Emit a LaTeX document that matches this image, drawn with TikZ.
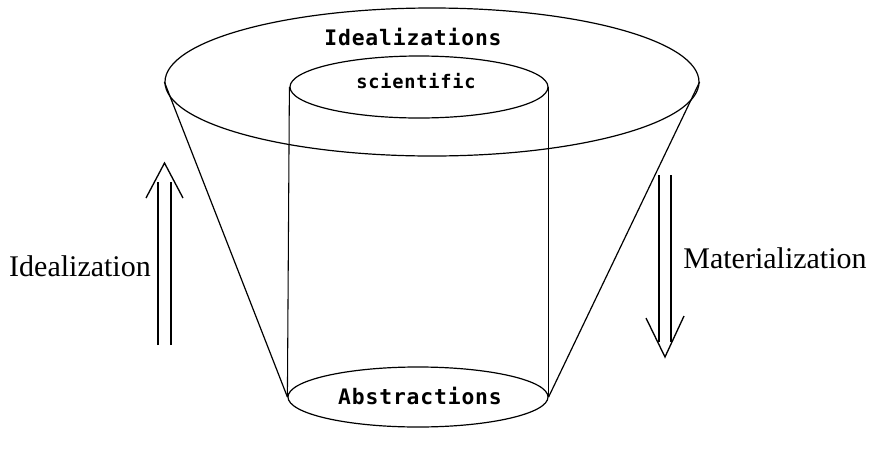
\documentclass[tikz,border=0pt]{standalone}
\usepackage{fontspec}
\setmainfont{Liberation Serif}
\newfontfamily\monof[LetterSpace=4]{DejaVu Sans Mono}
\usetikzlibrary{shapes.geometric}
\begin{document}
\begin{tikzpicture}[x=0.75pt,y=-0.75pt,
  outline/.style={draw=black,line width=0.9pt},
  ell/.style={ellipse,outline,inner sep=0pt,minimum width=#1},
  monolabel/.style={font=\monof\bfseries\fontsize{16}{18}\selectfont,inner sep=0pt},
  seriflabel/.style={font=\fontsize{22.5}{26}\selectfont,inner sep=0pt},
  thin/.style={draw=black,line width=0.8pt},
  vhead/.style={draw=black,line width=1pt,line join=miter}]
\useasboundingbox (0,0) rectangle (869,472);
% ellipses
\node[ell=400.5pt,minimum height=111pt] (big) at (432,82) {};
\node[ell=193.5pt,minimum height=46.5pt] (inner) at (419,87) {};
\node[ell=195pt,minimum height=45pt] (bot) at (418,397) {};
% cone sides
\draw[outline] (big.west) -- (bot.west);
\draw[outline] (big.east) -- (bot.east);
% cylinder sides
\draw[thin] (inner.west) -- (bot.west);
\draw[thin] (inner.east) -- (bot.east);
% texts
\node[monolabel] (tI) at (413,37) {Idealizations};
\node[monolabel,font=\monof\bfseries\fontsize{14}{16}\selectfont] (tS) at (416,81) {scientific};
\node[monolabel] (tA) at (420,396) {Abstractions};
\node[seriflabel] (lI) at (80,266) {Idealization};
\node[seriflabel] (lM) at (775,258) {Materialization};
% up arrow (left)
\coordinate (ua1) at (158,345); \coordinate (ua1t) at (158,182);
\coordinate (ua2) at (171,345); \coordinate (ua2t) at (171,182);
\coordinate (uapex) at (164.5,163);
\coordinate (uwl) at (146,198); \coordinate (uwr) at (183,198);
\draw[thin] (ua1) -- (ua1t);
\draw[thin] (ua2) -- (ua2t);
\draw[vhead] (uwl) -- (uapex) -- (uwr);
% down arrow (right)
\coordinate (da1) at (659,175); \coordinate (da1b) at (659,342);
\coordinate (da2) at (671,175); \coordinate (da2b) at (671,342);
\coordinate (dapex) at (665,357);
\coordinate (dwl) at (646,318); \coordinate (dwr) at (684,316);
\draw[thin] (da1) -- (da1b);
\draw[thin] (da2) -- (da2b);
\draw[vhead] (dwl) -- (dapex) -- (dwr);
\end{tikzpicture}
\end{document}
